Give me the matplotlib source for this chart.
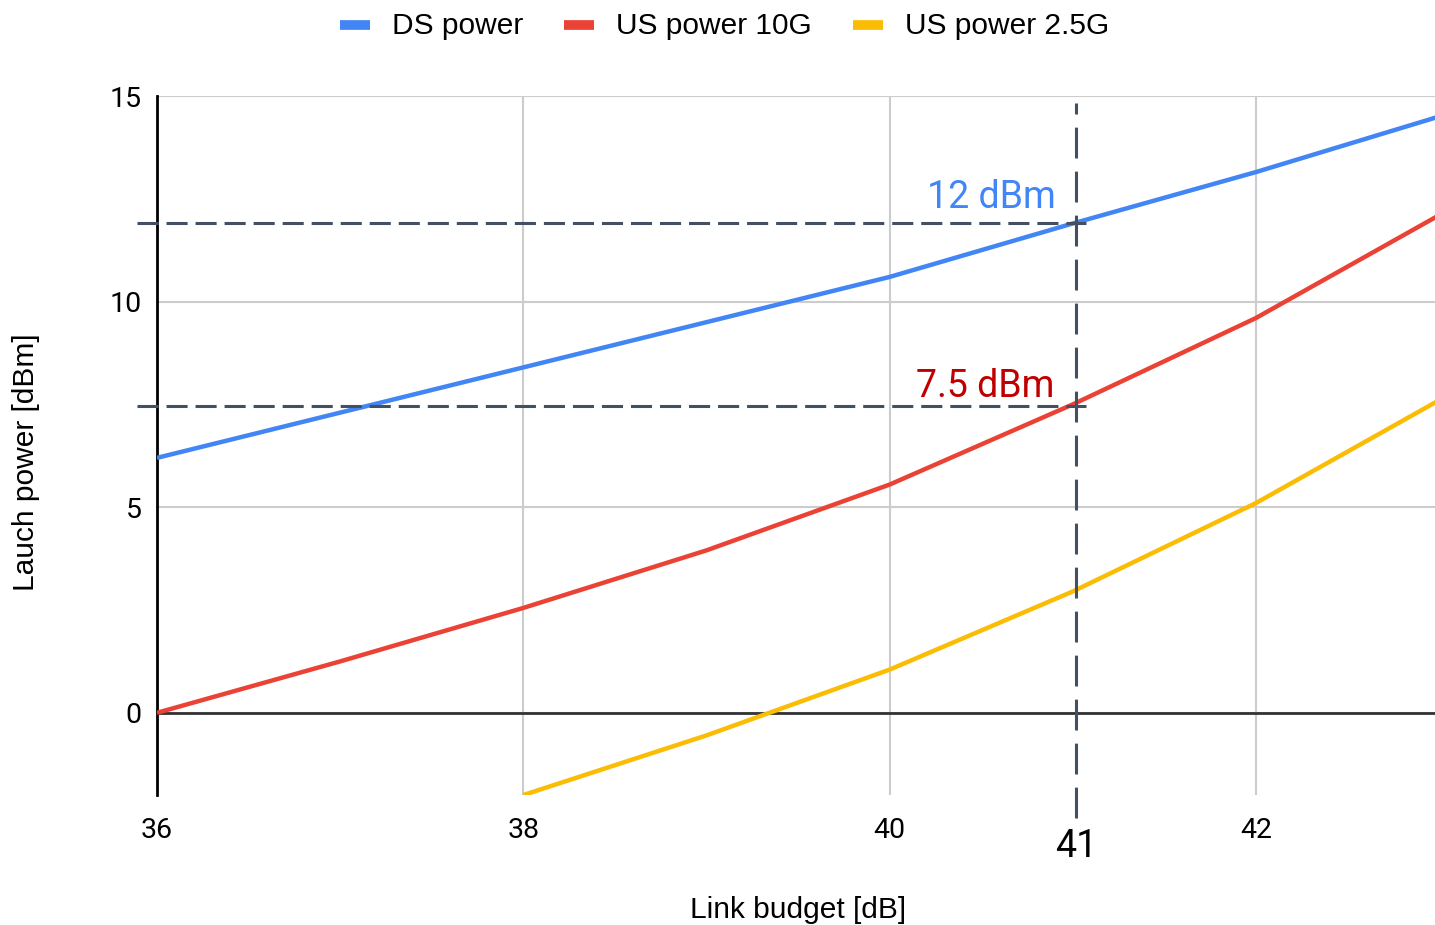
import matplotlib.pyplot as plt
import numpy as np

# Data
budget = [36, 37, 38, 39, 40, 41, 42, 43]
ds_power = [6.2, 7.3, 8.4, 9.5, 10.6, 11.9, 13.15, 14.5]
us_power_10g = [0.0, 1.25, 2.55, 3.95, 5.55, 7.5, 9.6, 12.1]
budget_25g = [38, 39, 40, 41, 42, 43]
us_power_25g = [-2.0, -0.55, 1.05, 2.95, 5.1, 7.6]

marker_x = 41.02
marker_ds = 11.9
marker_us = 7.45


def main():
    plt.rcParams['font.family'] = ['Roboto', 'DejaVu Sans']
    fig = plt.figure(figsize=(14.35, 9.25), dpi=100)
    ax = fig.add_axes([0.1094, 0.1405, 0.8934, 0.7557])

    ax.plot(budget, ds_power, color='#4285F4', lw=3.2, label='DS power',
            solid_capstyle='butt', zorder=4)
    ax.plot(budget, us_power_10g, color='#EA4335', lw=3.2, label='US power 10G',
            solid_capstyle='butt', zorder=4)
    ax.plot(budget_25g, us_power_25g, color='#FBBC04', lw=3.2,
            label='US power 2.5G', solid_capstyle='butt', zorder=4)

    ax.set_xlim(36, 43)
    ax.set_ylim(-2, 15)
    ax.set_xticks([36, 38, 40, 42])
    ax.set_yticks([0, 5, 10, 15])
    ax.grid(True, color='#CCCCCC', lw=1.5)
    ax.set_axisbelow(True)
    for s in ['top', 'right', 'bottom']:
        ax.spines[s].set_visible(False)
    ax.spines['left'].set_linewidth(2)
    ax.spines['left'].set_color('#000000')
    ax.axhline(0, color='#333333', lw=2, zorder=2)
    ax.tick_params(length=0, labelsize=20.5, pad=11)
    ax.tick_params(axis='x', pad=16)

    # guide lines at 41 dB
    hdash = dict(color='#434F63', lw=2.2, dashes=(6.9, 2.6), zorder=5,
                 clip_on=False, solid_capstyle='butt')
    ax.plot([35.89, marker_x + 0.05], [marker_ds, marker_ds], **hdash)
    ax.plot([35.89, marker_x + 0.05], [marker_us, marker_us], **hdash)
    ax.plot([marker_x, marker_x], [-2.56, 14.82], color='#434F63', lw=2.2,
            dashes=(10.1, 4.3), zorder=5, clip_on=False)

    ax.text(marker_x - 0.11, marker_ds + 0.18, '12 dBm', color='#4285F4',
            fontsize=27, ha='right', va='bottom')
    ax.text(marker_x - 0.12, marker_us + 0.03, '7.5 dBm', color='#C00000',
            fontsize=27, ha='right', va='bottom')
    ax.text(marker_x, -2.8, '41', fontsize=27, ha='center', va='top')

    ax.set_xlabel('Link budget [dB]', fontsize=21.5, family='Liberation Sans')
    ax.set_ylabel('Lauch power [dBm]', fontsize=21.5, family='Liberation Sans')
    ax.xaxis.set_label_coords(0.5, -0.145)
    ax.yaxis.set_label_coords(-0.091, 0.476)

    fig.legend(loc='center', bbox_to_anchor=(0.505, 0.972), ncol=3,
               frameon=False, handlelength=1.0, handleheight=0.3,
               columnspacing=1.37, handletextpad=0.74,
               prop={'family': 'Liberation Sans', 'size': 21.5})
    leg = fig.legends[0]
    for h in leg.legend_handles:
        h.set_linewidth(7)

    fig.savefig('out.png', dpi=100)


if __name__ == "__main__":
    main()
